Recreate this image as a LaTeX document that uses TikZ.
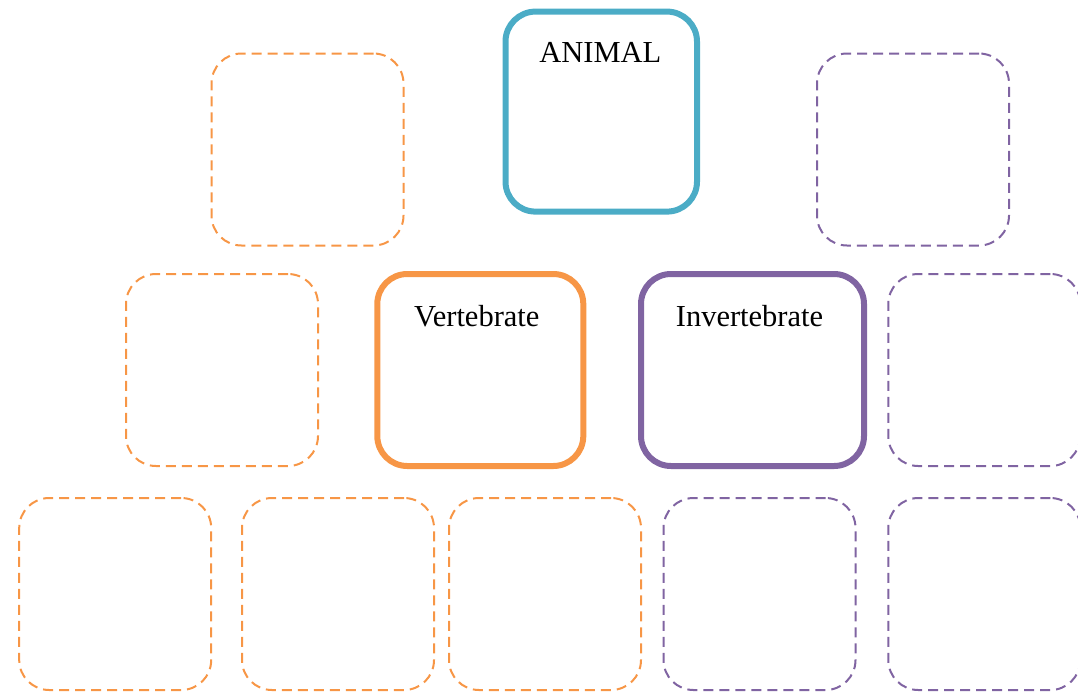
\documentclass[tikz,border=0pt]{standalone}
\usepackage{fontspec}
\setmainfont{Liberation Serif}
\definecolor{cblue}{HTML}{4BACC6}
\definecolor{corange}{HTML}{F79646}
\definecolor{cpurple}{HTML}{8064A2}
\begin{document}
\begin{tikzpicture}[x=1pt,y=-1pt,
  box/.style={rectangle,rounded corners=30pt,inner sep=0pt,outer sep=0pt},
  mainbox/.style={box,draw=#1,line width=6pt},
  emptybox/.style={box,draw=#1,line width=2pt,dash pattern=on 10pt off 6pt,minimum width=192pt,minimum height=192pt},
  lbl/.style={anchor=base,inner sep=0pt,font=\fontsize{30.5}{36}\selectfont}
]
\useasboundingbox (0,0) rectangle (1078,691);
\clip (0,0) rectangle (1078,691);
% main boxes
\node[mainbox=cblue,minimum width=191.5pt,minimum height=200pt] (animal) at (601.25,111.6) {};
\node[mainbox=corange,minimum width=206pt,minimum height=192pt] (vert) at (480.3,370) {};
\node[mainbox=cpurple,minimum width=223pt,minimum height=192pt] (invert) at (752.5,370) {};
% labels
\node[lbl] (tanimal) at (600.3,62.7) {ANIMAL};
\node[lbl] (tvert) at (476.8,326) {Vertebrate};
\node[lbl] (tinvert) at (749.5,326) {Invertebrate};
% empty orange boxes
\node[emptybox=corange] (o1) at (307.5,149.5) {};
\node[emptybox=corange] (o2) at (222,370) {};
\node[emptybox=corange] (o3) at (115.2,594) {};
\node[emptybox=corange] (o4) at (338,594) {};
\node[emptybox=corange] (o5) at (545,594) {};
% empty purple boxes
\node[emptybox=cpurple] (p1) at (913,149.5) {};
\node[emptybox=cpurple] (p2) at (984.3,370) {};
\node[emptybox=cpurple] (p3) at (759.5,594) {};
\node[emptybox=cpurple] (p4) at (984.3,594) {};
\end{tikzpicture}
\end{document}
